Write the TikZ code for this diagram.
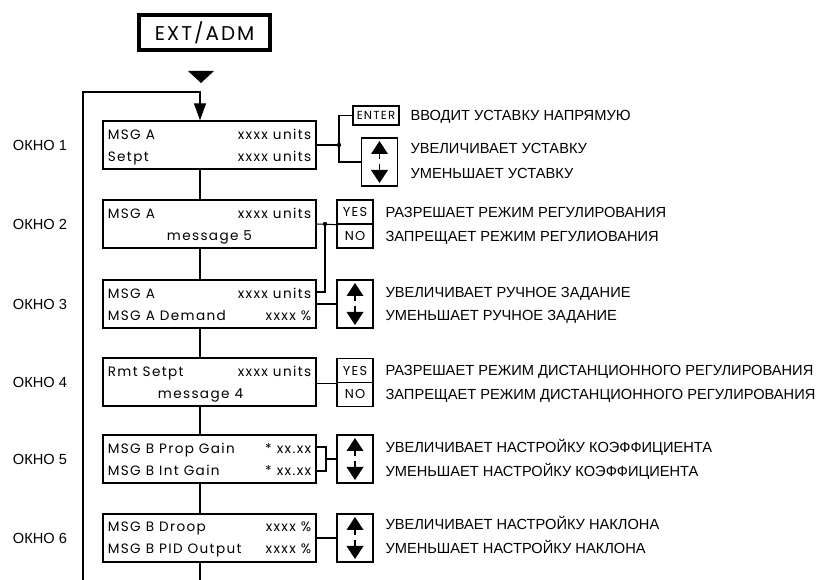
\documentclass[tikz,border=0pt]{standalone}
\usepackage{fontspec}
\setmainfont{Liberation Sans}
\newfontfamily\cadfont[LetterSpace=10]{Poppins}
\usetikzlibrary{arrows.meta}
\newcommand{\winline}[2]{\makebox[61mm]{#1\hfill#2}}
\tikzset{
  updn/.pic={
    \fill (0,-21) -- (-8.5,-8) -- (8.5,-8) -- cycle;
    \draw[line width=1.6pt] (0,-8) -- (0,-2.5); \draw[line width=1.6pt] (0,2.5) -- (0,8);
    \fill (0,21) -- (-8.5,8) -- (8.5,8) -- cycle;
  }
}
\begin{document}
\begin{tikzpicture}[x=0.3mm,y=-0.3mm,line width=0.9pt,
  win/.style={draw,line width=1.1pt,minimum width=63.9mm,minimum height=14.4mm,inner sep=0pt,align=center,text depth=0pt,font=\cadfont\fontsize{11.6}{18.8}\selectfont},
  keybox/.style={draw,line width=1.1pt,minimum width=10.8mm,minimum height=14.4mm,inner sep=0pt},
  halfkey/.style={draw,line width=1.1pt,minimum width=10.8mm,minimum height=7.2mm,inner sep=0pt,font=\cadfont\fontsize{11}{12}\selectfont},
  desc/.style={anchor=west,inner sep=0pt,text height=9pt,text depth=0pt,font=\fontsize{12.5}{15}\selectfont},
  lbl/.style={font=\fontsize{12.5}{15}\selectfont}]
  \useasboundingbox (0,0) rectangle (819,580);
  \node[draw,line width=2.8pt,minimum width=39.3mm,minimum height=10.5mm,inner sep=0pt,font=\cadfont\fontsize{17}{20}\selectfont] (ext) at (204.5,32.5) {EXT/ADM};
  \fill (188,71) -- (214,71) -- (201,83) -- cycle;
  \node[win] (w1) at (209.5,145) {\winline{MSG A}{xxxx units}\\\winline{Setpt}{xxxx units}};
  \node[win] (w2) at (209.5,224) {\winline{MSG A}{xxxx units}\\\makebox[61mm]{message 5}};
  \node[win] (w3) at (209.5,304) {\winline{MSG A}{xxxx units}\\\winline{MSG A Demand}{xxxx \%}};
  \node[win] (w4) at (209.5,382) {\winline{Rmt Setpt}{xxxx units}\\\makebox[61mm]{message 4\hspace{5.4mm}}};
  \node[win] (w5) at (209.5,459) {\winline{MSG B Prop Gain}{* xx.xx}\\\winline{MSG B Int Gain}{* xx.xx}};
  \node[win] (w6) at (209.5,538) {\winline{MSG B Droop}{xxxx \%}\\\winline{MSG B PID Output}{xxxx \%}};
  \node[lbl] (o1) at (40,145) {ОКНО 1}; \node[lbl] (o2) at (40,224) {ОКНО 2}; \node[lbl] (o3) at (40,304) {ОКНО 3};
  \node[lbl] (o4) at (40,382) {ОКНО 4}; \node[lbl] (o5) at (40,459) {ОКНО 5}; \node[lbl] (o6) at (40,538) {ОКНО 6};
  \coordinate (lp) at (200,92); \coordinate (bl) at (83,590); \coordinate (bc) at (200,590);
  \draw[-{Triangle[width=3.6mm,length=5.1mm]}] (bl) |- (lp) -- (w1.north -| lp);
  \draw (w1.south -| lp) -- (w2.north -| lp); \draw (w2.south -| lp) -- (w3.north -| lp); \draw (w3.south -| lp) -- (w4.north -| lp);
  \draw (w4.south -| lp) -- (w5.north -| lp); \draw (w5.south -| lp) -- (w6.north -| lp); \draw (w6.south -| lp) -- (bc);
  \node[halfkey,minimum width=13.8mm,minimum height=5.7mm,font=\cadfont\fontsize{10}{11}\selectfont] (ent) at (376,115.5) {ENTER};
  \node[keybox] (k1) at (379.5,162) {}; \pic at (k1) {updn};
  \node[halfkey] (yes2) at (355,212) {YES}; \node[halfkey] (no2) at (355,236) {NO};
  \node[keybox] (k3) at (355,304) {}; \pic at (k3) {updn};
  \node[halfkey] (yes4) at (355,370.5) {YES}; \node[halfkey] (no4) at (355,394.5) {NO};
  \node[keybox] (k5) at (355,459) {}; \pic at (k5) {updn};
  \node[keybox] (k6) at (355,538) {}; \pic at (k6) {updn};
  \coordinate (j1) at (339,145); \coordinate (j2) at (325,224); \coordinate (j5) at (326,459);
  \draw (w1.east) -- (j1); \draw (ent.west) -| (j1) |- (k1.west); \fill (j1) circle (0.65mm);
  \draw (w2.east) -- (yes2.south west); \draw ([yshift=3.6mm]w3.east) -| (j2); \fill (j2) circle (0.65mm);
  \draw (w3.east) -- (k3.west);
  \draw (w4.east |- yes4.south west) -- (yes4.south west);
  \draw ([yshift=3.6mm]w5.east) -| (j5) |- ([yshift=-3.6mm]w5.east); \draw (j5) -- (k5.west);
  \draw (w6.east) -- (k6.west);
  \node[desc] (d1a) at (410,115) {ВВОДИТ УСТАВКУ НАПРЯМУЮ};
  \node[desc] (d1b) at (410,148) {УВЕЛИЧИВАЕТ УСТАВКУ};
  \node[desc] (d1c) at (410,173) {УМЕНЬШАЕТ УСТАВКУ};
  \node[desc] (d2a) at (385,212) {РАЗРЕШАЕТ РЕЖИМ РЕГУЛИРОВАНИЯ};
  \node[desc] (d2b) at (385,236) {ЗАПРЕЩАЕТ РЕЖИМ РЕГУЛИОВАНИЯ};
  \node[desc] (d3a) at (385,292) {УВЕЛИЧИВАЕТ РУЧНОЕ ЗАДАНИЕ};
  \node[desc] (d3b) at (385,315) {УМЕНЬШАЕТ РУЧНОЕ ЗАДАНИЕ};
  \node[desc] (d4a) at (385,370) {РАЗРЕШАЕТ РЕЖИМ ДИСТАНЦИОННОГО РЕГУЛИРОВАНИЯ};
  \node[desc] (d4b) at (385,394) {ЗАПРЕЩАЕТ РЕЖИМ ДИСТАНЦИОННОГО РЕГУЛИРОВАНИЯ};
  \node[desc] (d5a) at (385,447) {УВЕЛИЧИВАЕТ НАСТРОЙКУ КОЭФФИЦИЕНТА};
  \node[desc] (d5b) at (385,471) {УМЕНЬШАЕТ НАСТРОЙКУ КОЭФФИЦИЕНТА};
  \node[desc] (d6a) at (385,524) {УВЕЛИЧИВАЕТ НАСТРОЙКУ НАКЛОНА};
  \node[desc] (d6b) at (385,548) {УМЕНЬШАЕТ НАСТРОЙКУ НАКЛОНА};
\end{tikzpicture}
\end{document}
